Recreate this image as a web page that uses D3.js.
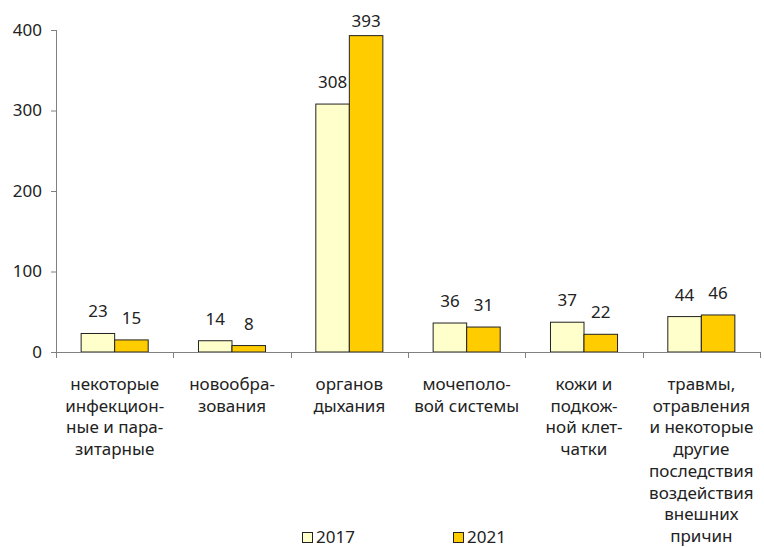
<!DOCTYPE html>
<html><head><meta charset="utf-8">
<script src="https://cdn.jsdelivr.net/npm/d3@7"></script>
<style>body{margin:0;background:#fff}svg{display:block}text{font-family:"Noto Sans","Open Sans",sans-serif;fill:#222}</style>
</head><body>
<svg id="c" width="764" height="547"></svg>
<script>
const categories = [
  ["некоторые","инфекцион-","ные и пара-","зитарные"],
  ["новообра-","зования"],
  ["органов","дыхания"],
  ["мочеполо-","вой системы"],
  ["кожи и","подкож-","ной клет-","чатки"],
  ["травмы,","отравления","и некоторые","другие","последствия","воздействия","внешних","причин"]
];
const years = ["2017","2021"];
const values2017 = [23,14,308,36,37,44];
const values2021 = [15,8,393,31,22,46];
const yTicks = [0,100,200,300,400];
const colors = {"2017":"#FFFFCC","2021":"#FFCC00"};

const FS = 17;
const svg = d3.select("#c");
const mLeft=56, mRight=760, mTop=30, mBottom=352;
const ids = categories.map((c,i)=>i);
const x0 = d3.scaleBand().domain(ids).range([mLeft,mRight]).paddingInner(0).paddingOuter(0);
const x1 = d3.scaleBand().domain(years).range([0,x0.bandwidth()]).paddingInner(0).paddingOuter(0.75);
const y = d3.scaleLinear().domain([0,400]).range([mBottom,mTop]);
const series = {"2017":values2017,"2021":values2021};

// bars
years.forEach(yr=>{
  svg.append("g").selectAll("rect").data(series[yr]).join("rect")
    .attr("x",(d,i)=>x0(i)+x1(yr)).attr("y",d=>y(d))
    .attr("width",x1.bandwidth()).attr("height",d=>mBottom-y(d))
    .attr("fill",colors[yr]).attr("stroke","#222").attr("stroke-width",1);
  svg.append("g").selectAll("text").data(series[yr]).join("text")
    .attr("x",(d,i)=>x0(i)+x1(yr)+x1.bandwidth()/2)
    .attr("y",d=>Math.max(27,y(d)-16))
    .attr("text-anchor","middle").attr("font-size",FS).text(d=>d);
});

// y axis
const yAxis = d3.axisLeft(y).tickValues(yTicks).tickSize(5).tickPadding(9);
const gy = svg.append("g").attr("transform",`translate(${mLeft},0)`).call(yAxis);
gy.select(".domain").attr("stroke","#808080").attr("d",`M0.5,${mTop}V${mBottom}`);
gy.selectAll(".tick line").attr("stroke","#808080");
gy.selectAll(".tick text").attr("font-size",FS).attr("fill","#222").attr("font-family",'"Noto Sans","Open Sans",sans-serif');

// x axis
const xAxis = d3.axisBottom(x0).tickValues([]).tickSizeOuter(0);
const gx = svg.append("g").attr("transform",`translate(0,${mBottom})`).call(xAxis);
gx.select(".domain").attr("stroke","#808080").attr("d",`M${mLeft},0.5H${mRight}`);
const bounds = ids.map(i=>x0(i)).concat([mRight]);
gx.selectAll("line.sep").data(bounds).join("line").attr("class","sep")
  .attr("x1",d=>Math.round(d)+0.5).attr("x2",d=>Math.round(d)+0.5).attr("y1",0).attr("y2",6).attr("stroke","#808080");

// category labels
const lab = svg.append("g");
categories.forEach((lines,i)=>{
  const t = lab.append("text").attr("text-anchor","middle").attr("font-size",FS);
  lines.forEach((l,j)=>t.append("tspan").attr("x",x0(i)+x0.bandwidth()/2).attr("y",390+j*21.7).text(l));
});

// legend
const legendX = {"2017":302,"2021":453};
years.forEach(yr=>{
  svg.append("rect").attr("x",legendX[yr]+0.5).attr("y",532.5).attr("width",10).attr("height",10)
    .attr("fill",colors[yr]).attr("stroke","#222");
  svg.append("text").attr("x",legendX[yr]+14).attr("y",543).attr("font-size",FS).text(yr);
});
</script>
</body></html>
